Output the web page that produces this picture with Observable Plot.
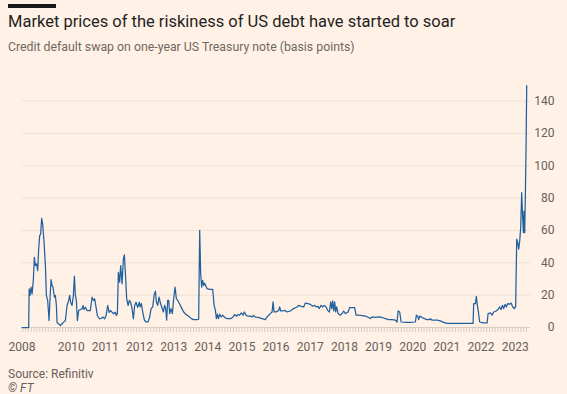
<!DOCTYPE html>
<html><head><meta charset="utf-8">
<script src="https://cdn.jsdelivr.net/npm/d3@7"></script>
<script src="https://cdn.jsdelivr.net/npm/@observablehq/plot@0.6"></script>
<style>
html,body{margin:0;padding:0;background:#fff1e5;}
body{width:567px;height:394px;overflow:hidden;position:relative;font-family:Roboto,sans-serif;}
.bar{position:absolute;left:8px;top:4px;width:48px;height:4px;background:#1a1817;}
.title{position:absolute;left:8px;top:14px;font-size:16.5px;line-height:1;color:#1f1f1f;white-space:nowrap;}
.sub{position:absolute;left:8px;top:41px;font-size:12.3px;line-height:1;color:#6e6862;white-space:nowrap;}
#chart{position:absolute;left:0;top:62px;}
.src{position:absolute;left:8px;top:368px;font-size:12px;line-height:1;color:#66605c;white-space:nowrap;}
.ft{position:absolute;left:8px;top:382px;font-size:12px;line-height:1;color:#66605c;font-style:italic;white-space:nowrap;}
</style></head>
<body>
<div class="bar"></div>
<div class="title">Market prices of the riskiness of US debt have started to soar</div>
<div class="sub">Credit default swap on one-year US Treasury note (basis points)</div>
<div id="chart"></div>
<div class="src">Source: Refinitiv</div>
<div class="ft">© FT</div>
<script>
// Time as decimal years, values in basis points
const dates = [
 2008.562,2008.755,2008.770,2008.796,2008.826,2008.855,2008.893,2008.922,2008.952,2008.990,
 2009.019,2009.048,2009.078,2009.107,2009.136,2009.165,2009.206,2009.245,2009.274,2009.312,
 2009.353,2009.382,2009.411,2009.441,2009.470,2009.508,2009.537,2009.567,2009.587,2009.634,
 2009.684,2009.734,2009.780,2009.830,2009.880,2009.927,2009.956,2009.985,2010.026,2010.064,
 2010.094,2010.123,2010.152,2010.182,2010.220,2010.269,2010.319,2010.348,2010.378,2010.416,
 2010.466,2010.512,2010.562,2010.612,2010.659,2010.688,2010.729,2010.767,2010.826,2010.884,
 2010.934,2010.981,2011.022,2011.069,2011.110,2011.148,2011.198,2011.245,2011.294,2011.324,
 2011.353,2011.382,2011.420,2011.449,2011.490,2011.529,2011.558,2011.587,2011.625,2011.666,
 2011.704,2011.742,2011.783,2011.821,2011.859,2011.900,2011.947,2011.997,2012.018,2012.056,
 2012.094,2012.144,2012.193,2012.252,2012.299,2012.340,2012.387,2012.428,2012.466,2012.495,
 2012.533,2012.574,2012.612,2012.650,2012.700,2012.738,2012.767,2012.796,2012.826,2012.855,
 2012.884,2012.925,2012.963,2013.001,2013.042,2013.080,2013.119,2013.168,2013.227,2013.294,
 2013.365,2013.441,2013.520,2013.587,2013.687,2013.733,2013.763,2013.792,2013.821,2013.851,
 2013.880,2013.909,2013.939,2013.980,2014.047,2014.144,2014.185,2014.223,2014.252,2014.281,
 2014.311,2014.349,2014.390,2014.436,2014.495,2014.565,2014.662,2014.729,2014.788,2014.837,
 2014.887,2014.934,2014.984,2015.034,2015.072,2015.122,2015.180,2015.247,2015.297,2015.344,
 2015.394,2015.473,2015.590,2015.687,2015.736,2015.783,2015.833,2015.883,2015.912,2015.942,
 2016.000,2016.076,2016.105,2016.135,2016.193,2016.252,2016.322,2016.419,2016.515,2016.615,
 2016.662,2016.732,2016.808,2016.858,2016.937,2017.004,2017.072,2017.130,2017.180,2017.230,
 2017.268,2017.318,2017.365,2017.414,2017.464,2017.511,2017.561,2017.599,2017.628,2017.657,
 2017.687,2017.716,2017.745,2017.775,2017.816,2017.874,2017.933,2017.980,2018.029,2018.108,
 2018.155,2018.301,2018.343,2018.419,2018.518,2018.615,2018.712,2018.761,2018.811,2018.908,
 2019.004,2019.104,2019.201,2019.297,2019.397,2019.494,2019.543,2019.573,2019.620,2019.661,
 2019.787,2019.933,2020.079,2020.109,2020.147,2020.176,2020.205,2020.275,2020.343,2020.422,
 2020.498,2020.518,2020.568,2020.715,2020.811,2020.908,2021.008,2021.201,2021.494,2021.769,
 2021.786,2021.836,2021.865,2021.894,2021.924,2021.962,2022.079,2022.179,2022.208,2022.275,
 2022.325,2022.372,2022.442,2022.501,2022.548,2022.589,2022.627,2022.665,2022.706,2022.744,
 2022.782,2022.832,2022.882,2022.929,2022.978,2023.016,2023.046,2023.075,2023.104,2023.134,
 2023.163,2023.192,2023.221,2023.242,2023.262,2023.280,2023.300,2023.321,2023.339
];
const cds = [
 0,0,23.9,19.8,24.9,20.8,29.6,43.4,38.3,39.3,
 35.2,48.6,56.8,57.8,67.5,64,52.7,38.3,19.8,16.7,
 4.3,18.7,29.6,25.9,24.9,18.7,19.8,13.6,2.9,2.3,
 1.2,2.3,3.3,4.3,13.6,16.7,19.8,15.6,13.6,19.8,
 31.7,19.8,16.7,4.3,10.5,11.1,11.5,13.6,11.1,12.5,
 10.5,10.5,10.5,18.7,16.7,17.7,12.5,7.4,5.4,5.7,
 6.4,5.4,7.4,13.6,9.4,10.5,9.4,8.5,9.4,7.4,
 8.5,34.1,28,38.3,27,42.4,44.9,34.1,17.7,13.6,
 16.7,15.6,11.5,5.4,13.6,15.6,12.5,15.6,12.7,14.8,
 9.6,4.5,3.4,3.4,6.5,11.7,12.7,19.9,22.5,15.8,
 13.7,18.8,15.1,12.7,9.6,13.7,11.7,4.5,16.8,16.8,
 8.6,11.7,8.6,17.8,25,17.8,16.8,14.8,12.3,9.6,
 8,7,5.5,4.9,4.9,5.1,60.1,33.2,25,29.1,
 26,27.4,26,24,23.6,23.6,13.7,10.6,5.5,8.2,
 5.5,8.2,6.5,7.6,6.2,5.5,5.5,6.2,8,7,
 8,7.6,9,7.6,9.6,7.6,7,7,6.5,7.4,
 6.4,6.2,5.5,4.9,6.5,7.6,8.6,9.6,15.8,9.6,
 9.6,10.6,12.7,10.2,10.2,10.6,9.6,10.2,11.7,12.7,
 13.7,13.1,12.7,15.1,14.8,14.3,13.1,13.7,12.7,13.1,
 11.7,13.7,12.7,13.7,12.7,10.6,9.6,15.8,11.7,16.4,
 10.2,15.8,9.6,12.7,8.6,7.6,8.6,10.2,8.6,9.6,
 12.3,12.3,7.6,7.6,7.4,7,6.2,5.5,6.5,6.2,
 6.5,6.2,5.5,4.9,4.9,4.5,3.4,10.2,9.6,3.4,
 3.2,3.2,3.4,7.6,7,4.9,7,6.2,5.5,4.9,
 4.9,5.5,4.5,4.5,4.1,3.2,2.5,2.5,2.5,2.5,
 14.8,14.8,19.3,13.7,9.6,3.4,2.8,2.8,8.6,9,
 7.6,9.6,10.2,11.1,12.7,11.1,13.7,11.7,14.3,12.7,
 14.8,14.3,15.1,12.7,11.7,13.1,54.6,52.5,48.4,53.5,
 61.7,83.3,67.9,58.6,72,58.6,82.3,113,149.5
];
const yTicks = [0, 20, 40, 60, 80, 100, 120, 140];
const yearTicks = [2008.56, 2010, 2011, 2012, 2013, 2014, 2015, 2016, 2017, 2018, 2019, 2020, 2021, 2022, 2023];
const xDomain = [2008.56, 2023.45];
const monthTicks = d3.range(0, 178).map(i => 2008 + (7 + i) / 12);

const data = dates.map((t, i) => ({t, v: cds[i]}));

const chart = Plot.plot({
  width: 567, height: 300,
  marginLeft: 21.5, marginRight: 37, marginTop: 22.3, marginBottom: 35,
  style: {background: "transparent", fontFamily: "Roboto, sans-serif", fontSize: "12px", color: "#66605c", overflow: "visible"},
  x: {domain: xDomain, label: null},
  y: {domain: [0, 150], label: null},
  marks: [
    Plot.gridY(yTicks.slice(1), {stroke: "#eee1d5", strokeOpacity: 1, strokeWidth: 1}),
    Plot.ruleY([0], {stroke: "#d9cdc2", strokeWidth: 1}),
    Plot.axisX(monthTicks, {tickSize: 5, tickFormat: () => "", stroke: "#d9cdc2", strokeOpacity: 1, label: null}),
    Plot.axisX(yearTicks, {tickSize: 0, tickPadding: 15, tickFormat: d => String(Math.floor(d)), fill: "#66605c", label: null}),
    Plot.axisY(yTicks, {anchor: "right", tickSize: 0, tickPadding: 24, textAnchor: "end", fill: "#66605c", label: null}),
    Plot.line(data, {x: "t", y: "v", stroke: "#22609d", strokeWidth: 1.25})
  ]
});
document.getElementById("chart").appendChild(chart);
</script>
</body></html>
